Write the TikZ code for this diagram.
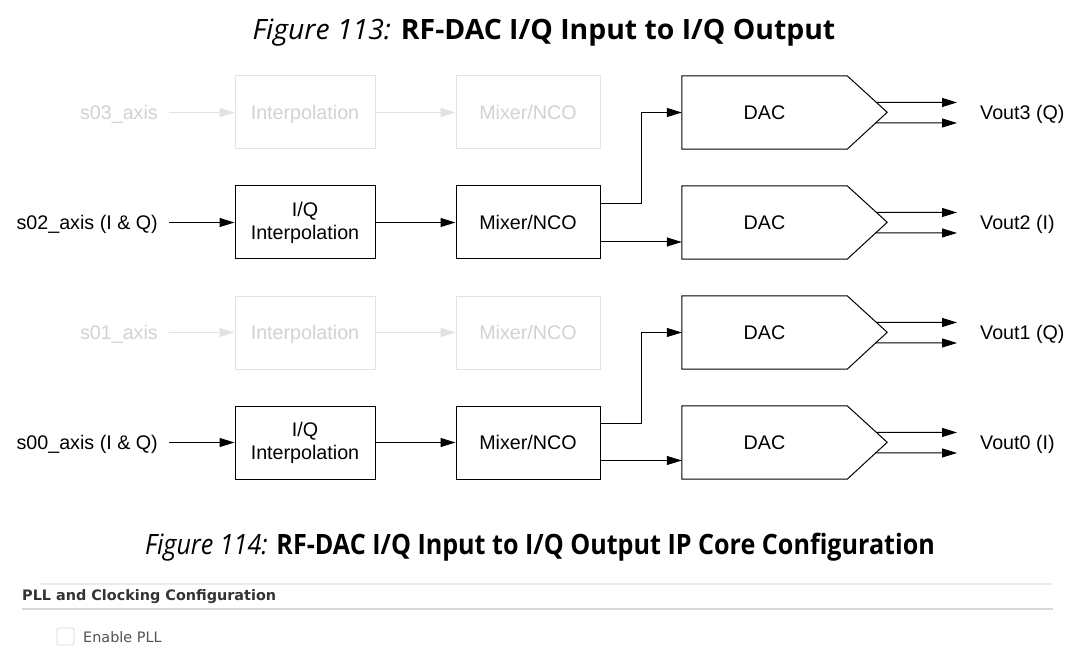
\documentclass[tikz,border=0pt]{standalone}
\usepackage{fontspec}
\usetikzlibrary{arrows.meta,calc}
\setmainfont{Liberation Sans}
\newfontfamily\capfont{Open Sans}
\newfontfamily\uifont{DejaVu Sans}
\newcommand{\diagfont}{\fontsize{19.7}{23}\selectfont}
\definecolor{ghostline}{HTML}{E2E2E2}
\definecolor{ghosttext}{HTML}{D2D2D2}
\definecolor{rulea}{HTML}{EBEBEB}
\definecolor{ruleb}{HTML}{D8D8D8}
\definecolor{uitext}{HTML}{333333}
\tikzset{
  blk/.style={draw, line width=1pt, minimum height=73pt, inner sep=0pt, font=\diagfont, align=center},
  capc/.style={text height=14pt, text depth=0pt},
  interp/.style={blk, minimum width=140pt},
  mixer/.style={blk, minimum width=144pt},
  dacbody/.style={minimum width=165pt, minimum height=73pt, inner sep=0pt, font=\diagfont, capc},
  dacline/.style={line width=1pt, line join=miter},
  lbl/.style={font=\diagfont, inner sep=0pt, capc},
  ghost/.style={draw=ghostline, text=ghosttext},
  conn/.style={-{Triangle[length=15pt,width=9pt]}, line width=1pt},
  gconn/.style={conn, draw=ghostline, color=ghostline},
  caption/.style={font=\capfont\fontsize{28}{32}\selectfont, inner sep=0pt, anchor=base},
}
\begin{document}
\begin{tikzpicture}[x=1pt,y=-1pt]
\useasboundingbox[fill=white] (0,0) rectangle (1090,655);
% title
\node[caption] (title1) at (544,40)
  {\scalebox{1.013}[1]{{\itshape Figure 113:} {\bfseries RF-DAC I/Q Input to I/Q Output}}};
% ghost rows
\node[lbl, anchor=east, text=ghosttext] (s03) at (158,112.5) {s03\_axis};
\node[interp, ghost, capc] (i3) at (305,112.5) {Interpolation};
\node[mixer, ghost, capc] (m3) at (528,112.5) {Mixer/NCO};
\draw[gconn] ([xshift=11pt]s03.east) -- (i3.west);
\draw[gconn] (i3.east) -- (m3.west);
\node[lbl, anchor=east, text=ghosttext] (s01) at (158,332.5) {s01\_axis};
\node[interp, ghost, capc] (i1) at (305,332.5) {Interpolation};
\node[mixer, ghost, capc] (m1) at (528,332.5) {Mixer/NCO};
\draw[gconn] ([xshift=11pt]s01.east) -- (i1.west);
\draw[gconn] (i1.east) -- (m1.west);
% active rows
\node[lbl, anchor=east] (s02) at (158,222.5) {s02\_axis (I \& Q)};
\node[interp] (i2) at (305,222.5) {I/Q\\Interpolation};
\node[mixer, capc] (m2) at (528,222.5) {Mixer/NCO};
\draw[conn] ([xshift=11pt]s02.east) -- (i2.west);
\draw[conn] (i2.east) -- (m2.west);
\node[lbl, anchor=east] (s00) at (158,442.5) {s00\_axis (I \& Q)};
\node[interp] (i0) at (305,442.5) {I/Q\\Interpolation};
\node[mixer, capc] (m0) at (528,442.5) {Mixer/NCO};
\draw[conn] ([xshift=11pt]s00.east) -- (i0.west);
\draw[conn] (i0.east) -- (m0.west);
% DACs
\foreach \d/\y/\v in {3/112.5/{Vout3 (Q)},2/222.5/{Vout2 (I)},1/332.5/{Vout1 (Q)},0/442.5/{Vout0 (I)}}{
  \node[dacbody] (d\d) at (764.5,\y) {DAC};
  \draw[dacline] (d\d.north west) -- (d\d.north east) -- ++(40,36.5) coordinate (tip\d)
     -- (d\d.south east) -- (d\d.south west) -- cycle;
  \node[lbl, anchor=west] (v\d) at (980,\y) {\v};
  \draw[conn] ($(tip\d)+(-11,-10)$) -- ($(v\d.west)+(-23,-10)$);
  \draw[conn] ($(tip\d)+(-11.5,10.5)$) -- ($(v\d.west)+(-23,10.5)$);
}
% mixer to DAC connections
\coordinate (b2) at (641,204);
\draw[conn] (m2.east |- b2) -- (b2) |- (d3.west);
\draw[conn] ($(m2.east)+(0,19.5)$) -- (d2.west |- 0,242);
\coordinate (b0) at (641,423);
\draw[conn] (m0.east |- b0) -- (b0) |- (d1.west);
\draw[conn] ($(m0.east)+(0,18)$) -- (d0.west |- 0,460.5);
% second caption
\node[caption] (title2) at (540,554)
  {\scalebox{0.897}[1]{{\itshape Figure 114:} {\bfseries RF-DAC I/Q Input to I/Q Output IP Core Configuration}}};
% configuration panel
\coordinate (ra1) at (40,584);
\coordinate (ra2) at (1053,584);
\coordinate (rb1) at (22,609);
\coordinate (rb2) at (1053,609);
\draw[rulea, line width=1.5pt] (ra1) -- (ra2);
\draw[ruleb, line width=1.2pt] (rb1) -- (rb2);
\node[font=\uifont\bfseries\fontsize{14.4}{16}\selectfont, text=uitext, anchor=west, inner sep=0pt] (sec) at (22,597) {PLL and Clocking Configuration};
\node[draw=ruleb, fill=white, rounded corners=2pt, minimum width=17pt, minimum height=17pt, inner sep=0pt, line width=0.8pt] (cb) at (65.5,636.5) {};
\node[font=\uifont\fontsize{14.4}{16}\selectfont, text=uitext!85, anchor=west, inner sep=0pt] (pll) at (83,637) {Enable PLL};
\end{tikzpicture}
\end{document}
